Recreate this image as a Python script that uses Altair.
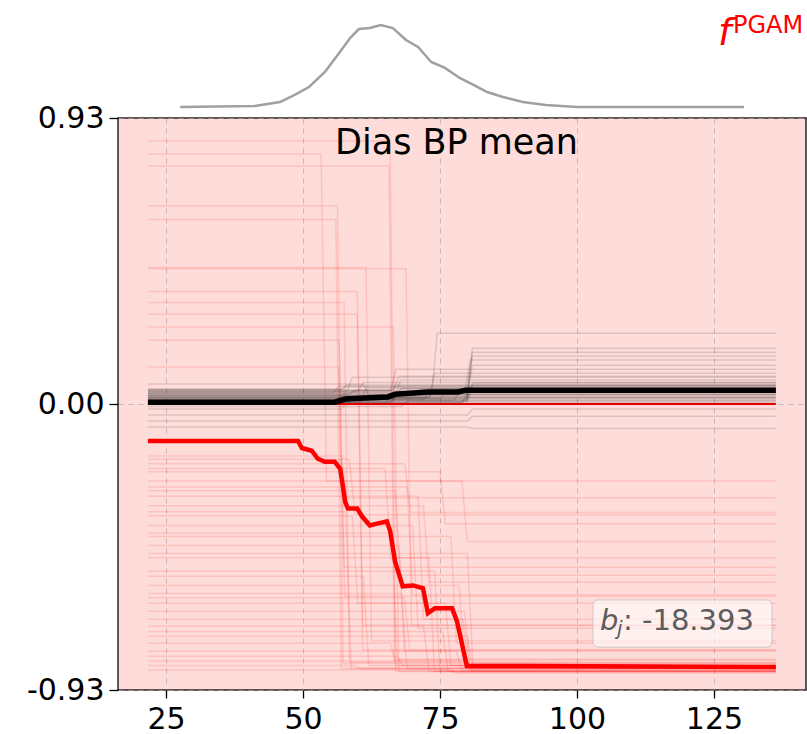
import altair as alt
import pandas as pd

# ---------------- data ----------------
X_START, X_END = 21.7, 136.3

# thick red line (mean of the red curves)
red_mean_x = [21.7, 49.1, 49.8, 51.6, 52.7, 54.0, 55.8, 56.8, 57.7, 58.2, 59.9, 60.8, 62.2, 63.5,
              65.3, 65.9, 66.8, 68.2, 70.1, 71.9, 72.8, 74.1, 77.2, 78.1, 79.9, 91.4, 136.3]
red_mean_y = [-0.120, -0.120, -0.143, -0.152, -0.178, -0.188, -0.188, -0.211, -0.318, -0.340, -0.340,
              -0.366, -0.395, -0.389, -0.382, -0.412, -0.512, -0.593, -0.590, -0.599, -0.680, -0.664,
              -0.664, -0.706, -0.852, -0.852, -0.855]

# thick black line (mean of the gray curves)
black_mean_x = [21.7, 55.8, 57.7, 60.4, 65.5, 66.8, 72.8, 78.3, 79.7, 136.3]
black_mean_y = [0.006, 0.006, 0.016, 0.019, 0.023, 0.032, 0.039, 0.039, 0.045, 0.045]

# thin red reference line
zero_x = [21.7, 136.3]
zero_y = [0.0, 0.0]

# faint gray curves: level before step, step position, level after step
gray_start = [0.030, 0.020, 0.025, 0.015, 0.035, 0.010, 0.045, 0.020, 0.040, 0.025, 0.049, 0.008,
              0.030, 0.020, 0.010, 0.015, 0.005, 0.000, 0.006, -0.016, -0.036, -0.055, -0.075,
              0.040, 0.045, 0.003, 0.012, 0.035, -0.008, 0.028, 0.065, 0.004, 0.002, 0.018,
              0.047, 0.042, 0.037, 0.033, 0.027, 0.022, 0.017, 0.012, 0.008, 0.004]
gray_jump = [73.5, 79.9, 79.9, 79.9, 79.5, 79.9, 66.0, 73.0, 58.0, 66.8, 57.0, 80.0,
             58.5, 66.8, 56.4, 72.0, 66.0, 58.0, 79.0, 57.0, 80.0, 80.0, 80.0,
             60.0, 66.5, 60.5, 77.5, 55.5, 68.0, 70.5, 61.0, 57.5, 65.0, 75.0,
             57.0, 66.0, 80.0, 58.0, 67.0, 73.0, 80.0, 57.5, 66.0, 79.0]
gray_end = [0.230, 0.181, 0.168, 0.156, 0.143, 0.126, 0.113, 0.100, 0.087, 0.078, 0.062, 0.060,
            0.045, 0.050, 0.032, 0.040, 0.025, 0.016, 0.020, 0.006, -0.016, -0.040, -0.080,
            0.070, 0.090, 0.052, 0.035, 0.058, 0.010, 0.048, 0.030, 0.012, 0.022, 0.038,
            0.055, 0.060, 0.070, 0.040, 0.050, 0.048, 0.065, 0.020, 0.030, 0.042]

# faint red curves: level before step, step position, level after step
red_start = [0.855, 0.813, 0.774, 0.645, 0.444, 0.366, 0.292, 0.207, 0.120, -0.169, -0.194, -0.220,
             -0.250, -0.282, -0.331, -0.363, -0.395, -0.431, -0.460, -0.486, -0.544, -0.590, -0.616,
             -0.648, -0.674, -0.723, -0.755, -0.778, -0.804, -0.836, -0.865, 0.440,
             0.600, 0.330, 0.250, -0.180, -0.210, -0.270, -0.300, -0.350, -0.420, -0.500, -0.560,
             -0.630, -0.700, -0.740, -0.820, -0.850]
red_jump = [65.9, 53.3, 65.7, 56.3, 61.5, 59.9, 59.9, 56.6, 56.5, 57.0, 68.6, 75.0,
            79.0, 66.8, 72.0, 59.0, 70.0, 77.0, 67.5, 80.0, 74.0, 78.5, 68.0,
            76.0, 79.5, 72.0, 80.0, 66.0, 78.0, 80.0, 77.0, 68.8,
            56.0, 57.5, 66.5, 58.5, 65.0, 69.0, 71.0, 57.8, 66.2, 73.0, 61.0,
            68.5, 79.2, 75.5, 67.2, 59.5]
red_end = [-0.868, -0.250, -0.833, -0.843, -0.771, -0.719, -0.800, -0.625, -0.531, -0.305, -0.353, -0.389,
           -0.447, -0.557, -0.580, -0.648, -0.729, -0.778, -0.804, -0.843, -0.868, -0.855, -0.860,
           -0.850, -0.865, -0.870, -0.860, -0.850, -0.866, -0.870, -0.875, -0.720,
           -0.860, -0.840, -0.870, -0.360, -0.500, -0.620, -0.700, -0.860, -0.830, -0.870, -0.850,
           -0.800, -0.860, -0.870, -0.850, -0.860]

# feature distribution (top)
dens_x = [27.6, 41.2, 45.8, 48.4, 51.1, 54.0, 56.6, 58.6, 60.2, 62.2, 64.2, 66.4, 68.8, 71.0,
          73.4, 75.9, 78.6, 81.2, 83.6, 86.5, 90.1, 94.3, 100.0, 130.5]
dens_y = [0.0, 0.012, 0.061, 0.146, 0.244, 0.427, 0.659, 0.841, 0.951, 0.963, 1.0, 0.963, 0.817,
          0.732, 0.549, 0.476, 0.354, 0.268, 0.183, 0.122, 0.061, 0.024, 0.0, 0.0]

x_ticks = [25, 50, 75, 100, 125]
y_ticks = [-0.93, 0.0, 0.93]
title_text = ["Dias BP mean"]
bias_label = ["-18.393"]

# ---------------- tables ----------------
TRANS = 1.0


def step_table(starts, jumps, ends):
    rows = []
    for i, (s, j, e) in enumerate(zip(starts, jumps, ends)):
        rows += [
            {"id": i, "o": 0, "x": X_START, "y": s},
            {"id": i, "o": 1, "x": j, "y": s},
            {"id": i, "o": 2, "x": j + TRANS, "y": e},
            {"id": i, "o": 3, "x": X_END, "y": e},
        ]
    return pd.DataFrame(rows)


gray_df = step_table(gray_start, gray_jump, gray_end)
red_df = step_table(red_start, red_jump, red_end)
red_mean_df = pd.DataFrame({"x": red_mean_x, "y": red_mean_y})
black_mean_df = pd.DataFrame({"x": black_mean_x, "y": black_mean_y})
zero_df = pd.DataFrame({"x": zero_x, "y": zero_y})
dens_df = pd.DataFrame({"x": dens_x, "y": dens_y})

FONT = "DejaVu Sans"
xs = alt.Scale(domain=[16.24, 141.8], nice=False, zero=False)
ys = alt.Scale(domain=[-0.93, 0.93], nice=False, zero=False)

x_axis = alt.Axis(values=x_ticks, title=None, labelFontSize=30, labelFont=FONT, labelColor="black",
                  tickSize=8, tickColor="black", tickWidth=1.3, labelPadding=6, domain=False,
                  grid=True, gridDash=[5, 5], gridColor="#b8a0a0", gridOpacity=0.7, gridWidth=1,
                  labelFlush=False)
y_axis = alt.Axis(values=y_ticks, title=None, labelFontSize=30, labelFont=FONT,
                  labelExpr="replace(format(datum.value, '.2f'), '\u2212', '-')",
                  labelColor="black", tickSize=9, tickColor="black", tickWidth=1.3, labelPadding=5,
                  domain=False, grid=True, gridDash=[5, 5], gridColor="#b8a0a0", gridOpacity=0.7,
                  gridWidth=1)

X = alt.X("x:Q", scale=xs, axis=x_axis)
Y = alt.Y("y:Q", scale=ys, axis=y_axis)

faint_red = alt.Chart(red_df).mark_line(color="red", strokeWidth=1.5, opacity=0.12).encode(
    x=X, y=Y, detail="id:N", order="o:Q",
)
faint_gray = alt.Chart(gray_df).mark_line(color="black", strokeWidth=1.5, opacity=0.12).encode(
    x=X, y=Y, detail="id:N", order="o:Q",
)
zero_line = alt.Chart(zero_df).mark_line(color="#e00000", strokeWidth=2.2).encode(x=X, y=Y)
black_line = alt.Chart(black_mean_df).mark_line(color="black", strokeWidth=5.5).encode(x=X, y=Y)
red_line = alt.Chart(red_mean_df).mark_line(color="#ff0000", strokeWidth=4.5).encode(x=X, y=Y)

title = alt.Chart(pd.DataFrame({"t": title_text})).mark_text(
    font=FONT, fontSize=35, color="black", align="center", baseline="alphabetic"
).encode(text="t:N", x=alt.value(338.5), y=alt.value(36))

box = alt.Chart(pd.DataFrame({"t": bias_label})).mark_rect(
    fill="white", fillOpacity=0.6, stroke="#b0b0b0", strokeOpacity=0.6, cornerRadius=5
).encode(x=alt.value(475), x2=alt.value(654), y=alt.value(482), y2=alt.value(529))
b_txt = alt.Chart(pd.DataFrame({"t": ["b"]})).mark_text(
    font=FONT, fontSize=29, fontStyle="italic", color="#5c5c5c", align="left", baseline="alphabetic"
).encode(text="t:N", x=alt.value(482), y=alt.value(512))
j_txt = alt.Chart(pd.DataFrame({"t": ["j"]})).mark_text(
    font=FONT, fontSize=20, fontStyle="italic", color="#5c5c5c", align="left", baseline="alphabetic"
).encode(text="t:N", x=alt.value(499), y=alt.value(517))
val_txt = alt.Chart(pd.DataFrame({"t": [": " + bias_label[0]]})).mark_text(
    font=FONT, fontSize=29, color="#5c5c5c", align="left", baseline="alphabetic"
).encode(text="t:N", x=alt.value(505), y=alt.value(512))

f_txt = alt.Chart(pd.DataFrame({"t": ["f"]})).mark_text(
    font=FONT, fontSize=38, fontStyle="italic", color="#ff0000", align="left", baseline="alphabetic"
).encode(text="t:N", x=alt.value(600), y=alt.value(-73))
pgam_txt = alt.Chart(pd.DataFrame({"t": ["PGAM"]})).mark_text(
    font=FONT, fontSize=24, color="#ff0000", align="left", baseline="alphabetic"
).encode(text="t:N", x=alt.value(615), y=alt.value(-85))

main = alt.layer(faint_red, faint_gray, zero_line, black_line, red_line, title, box, b_txt, j_txt,
                 val_txt, f_txt, pgam_txt)

density = alt.Chart(dens_df).mark_line(color="#a0a0a0", strokeWidth=2.5).encode(
    x=X,
    y=alt.Y("y:Q", scale=alt.Scale(domain=[0, 1], range=[-11, -93]), axis=None),
)

chart = alt.layer(main, density).resolve_scale(y="independent").properties(
    width=688, height=572,
    autosize=alt.AutoSizeParams(type="none"),
    padding={"left": 118, "top": 118, "right": 1, "bottom": 44},
    background="white",
).configure_view(fill="#fddcd9", stroke="#262626", strokeWidth=1.5)

chart.save("out.html", embed_options={"renderer": "svg", "actions": False})
